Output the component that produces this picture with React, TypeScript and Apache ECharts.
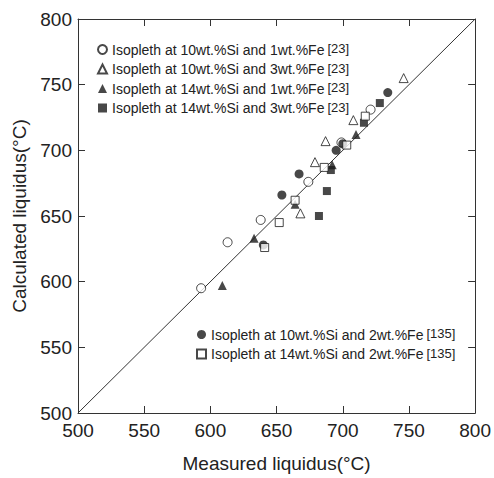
import React, { useEffect, useRef } from "react";
import * as echarts from "echarts";

const FONT = "'Liberation Sans', Arial, Helvetica, sans-serif";

const xTicks = { min: 500, max: 800, interval: 50 };
const yTicks = { min: 500, max: 800, interval: 50 };

const diagonal = [
  [500, 500],
  [800, 800],
];

const name10Si1Fe = "Isopleth at 10wt.%Si and 1wt.%Fe [23]";
const name10Si3Fe = "Isopleth at 10wt.%Si and 3wt.%Fe [23]";
const name14Si1Fe = "Isopleth at 14wt.%Si and 1wt.%Fe [23]";
const name14Si3Fe = "Isopleth at 14wt.%Si and 3wt.%Fe [23]";
const name10Si2Fe = "Isopleth at 10wt.%Si and 2wt.%Fe[135]";
const name14Si2Fe = "Isopleth at 14wt.%Si and 2wt.%Fe[135]";

const si10fe1 = [
  [593, 595],
  [613, 630],
  [638, 647],
  [674, 676],
  [699, 706],
  [721, 731],
];
const si10fe3 = [
  [668, 652],
  [679, 691],
  [687, 707],
  [708, 723],
  [746, 755],
];
const si14fe1 = [
  [609, 597],
  [633, 633],
  [664, 659],
  [692, 689],
  [710, 712],
];
const si14fe3 = [
  [682, 650],
  [688, 669],
  [691, 685],
  [716, 721],
  [728, 736],
];
const si10fe2 = [
  [640, 628],
  [654, 666],
  [667, 682],
  [695, 700],
  [700, 705],
  [734, 744],
];
const si14fe2 = [
  [641, 626],
  [652, 645],
  [664, 662],
  [686, 687],
  [703, 704],
  [717, 726],
];

const INK = "#1a1a1a";
const LINE = "#333";

const openStyle = { color: "#fff", borderColor: INK, borderWidth: 1 };
const filledStyle = { color: INK, borderColor: INK, borderWidth: 0 };

function legendFormatter(name: string) {
  const i = name.indexOf("[");
  const main = name.slice(0, i).trimEnd();
  const ref = name.slice(i);
  return main + "{r|" + ref + "}";
}

export default function App() {
  const ref = useRef<HTMLDivElement>(null);
  useEffect(() => {
    if (!ref.current) return;
    const chart = echarts.init(ref.current, null, { renderer: "svg" });
    const axisCommon = {
      type: "value" as const,
      axisLine: { show: true, lineStyle: { color: LINE, width: 1 } },
      axisTick: { show: true, inside: true, length: 7, lineStyle: { color: LINE, width: 1 } },
      splitLine: { show: false },
    };
    const legendText = {
      fontSize: 14,
      color: "#222",
      fontFamily: FONT,
      lineHeight: 14,
      rich: {
        r: { fontSize: 13, color: "#222", fontFamily: FONT, padding: [0, 0, 2, 3] },
      },
    };
    chart.setOption({
      animation: false,
      backgroundColor: "#fff",
      grid: { left: 78, right: 18, top: 19, bottom: 62, containLabel: false },
      xAxis: [
        {
          ...axisCommon,
          ...xTicks,
          position: "bottom",
          axisLabel: { fontSize: 19, color: "#222", fontFamily: FONT, margin: 8 },
          name: "Measured liquidus(°C)",
          nameLocation: "middle",
          nameGap: 41,
          nameTextStyle: { fontSize: 19, color: "#222", fontFamily: FONT },
        },
        {
          ...axisCommon,
          ...xTicks,
          position: "top",
          axisLabel: { show: false },
        },
      ],
      yAxis: [
        {
          ...axisCommon,
          ...yTicks,
          position: "left",
          axisLabel: { fontSize: 19, color: "#222", fontFamily: FONT, margin: 6 },
          name: "Calculated liquidus(°C)",
          nameLocation: "middle",
          nameGap: 48,
          nameTextStyle: { fontSize: 19, color: "#222", fontFamily: FONT },
        },
        {
          ...axisCommon,
          ...yTicks,
          position: "right",
          axisLabel: { show: false },
        },
      ],
      legend: [
        {
          orient: "vertical",
          left: 92,
          top: 37,
          itemWidth: 9,
          itemHeight: 9,
          itemGap: 5,
          selectedMode: false,
          data: [name10Si1Fe, name10Si3Fe, name14Si1Fe, name14Si3Fe],
          formatter: legendFormatter,
          textStyle: legendText,
        },
        {
          orient: "vertical",
          left: 191,
          top: 322,
          itemWidth: 9,
          itemHeight: 9,
          itemGap: 5,
          selectedMode: false,
          data: [name10Si2Fe, name14Si2Fe],
          formatter: legendFormatter,
          textStyle: legendText,
        },
      ],
      series: [
        {
          type: "line",
          name: "y = x",
          data: diagonal,
          symbol: "none",
          lineStyle: { color: LINE, width: 1 },
          silent: true,
          z: 1,
        },
        {
          type: "scatter",
          name: name10Si1Fe,
          data: si10fe1,
          symbol: "circle",
          symbolSize: 9,
          itemStyle: openStyle,
          z: 3,
        },
        {
          type: "scatter",
          name: name10Si3Fe,
          data: si10fe3,
          symbol: "triangle",
          symbolSize: 9,
          itemStyle: openStyle,
          z: 3,
        },
        {
          type: "scatter",
          name: name14Si1Fe,
          data: si14fe1,
          symbol: "triangle",
          symbolSize: 9,
          itemStyle: filledStyle,
          z: 3,
        },
        {
          type: "scatter",
          name: name14Si3Fe,
          data: si14fe3,
          symbol: "rect",
          symbolSize: 8,
          itemStyle: filledStyle,
          z: 3,
        },
        {
          type: "scatter",
          name: name10Si2Fe,
          data: si10fe2,
          symbol: "circle",
          symbolSize: 9,
          itemStyle: filledStyle,
          z: 3,
        },
        {
          type: "scatter",
          name: name14Si2Fe,
          data: si14fe2,
          symbol: "rect",
          symbolSize: 8,
          itemStyle: openStyle,
          z: 3,
        },
      ],
    });
    return () => chart.dispose();
  }, []);
  return (
    <div
      ref={ref}
      style={{ position: "fixed", left: 0, top: 0, width: 494, height: 478, background: "#fff" }}
    />
  );
}
